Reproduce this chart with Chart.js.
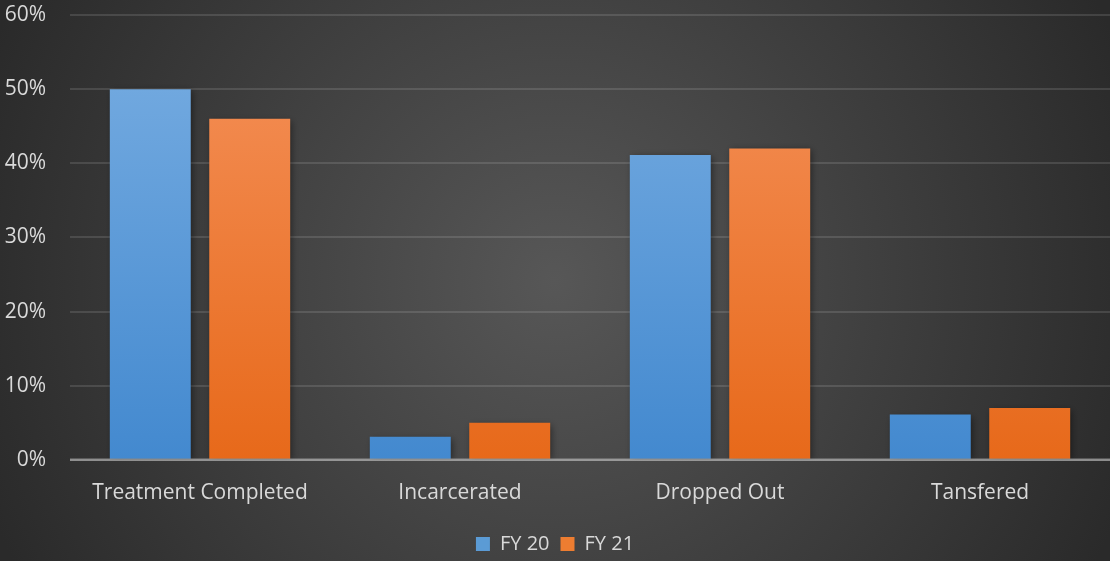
<!DOCTYPE html>
<html>
<head>
<meta charset="utf-8">
<script src="https://cdn.jsdelivr.net/npm/chart.js@4"></script>
<style>
html,body{margin:0;padding:0;background:#2a2a2a;}
#wrap{width:1110px;height:561px;position:relative;}
</style>
</head>
<body>
<div id="wrap"><canvas id="c" width="1110" height="561"></canvas></div>
<script>
const categories = ["Treatment Completed", "Incarcerated", "Dropped Out", "Tansfered"];
const fy20 = [50, 3.1, 41.1, 6.1];
const fy21 = [46, 5, 42, 7];
const seriesNames = ["FY 20", "FY 21"];

function vgrad(ctx, area, top, bottom) {
  const g = ctx.createLinearGradient(0, area.top, 0, area.bottom);
  g.addColorStop(0, top);
  g.addColorStop(1, bottom);
  return g;
}

const bgPlugin = {
  id: 'bg',
  afterUpdate(chart) {
    const lg = chart.legend;
    if (lg) {
      lg.top += 3;
      lg.bottom += 3;
      if (lg.legendHitBoxes) lg.legendHitBoxes.forEach(h => { h.top += 3; });
    }
  },
  beforeDraw(chart) {
    const {ctx, width, height} = chart;
    ctx.save();
    const g = ctx.createRadialGradient(width/2, height/2, 0, width/2, height/2, width*0.55);
    g.addColorStop(0, '#575757');
    g.addColorStop(1, '#2a2a2a');
    ctx.fillStyle = g;
    ctx.fillRect(0, 0, width, height);
    ctx.restore();
  },
  beforeDatasetsDraw(chart) {
    const ctx = chart.ctx;
    ctx.save();
    ctx.shadowColor = 'rgba(0,0,0,0.45)';
    ctx.shadowBlur = 7;
    ctx.shadowOffsetX = 2;
    ctx.shadowOffsetY = 2;
  },
  afterDatasetsDraw(chart) {
    const ctx = chart.ctx;
    ctx.restore();
    const y = chart.scales.y.getPixelForValue(0);
    ctx.save();
    ctx.strokeStyle = 'rgba(200,200,200,0.55)';
    ctx.lineWidth = 2.5;
    ctx.beginPath();
    ctx.moveTo(chart.chartArea.left, y);
    ctx.lineTo(chart.chartArea.right, y);
    ctx.stroke();
    ctx.restore();
  }
};

new Chart(document.getElementById('c'), {
  type: 'bar',
  data: {
    labels: categories,
    datasets: [
      {
        label: seriesNames[0],
        data: fy20,
        backgroundColor: (c) => {
          const a = c.chart.chartArea;
          if (!a) return '#5b9bd5';
          return vgrad(c.chart.ctx, a, '#79aee2', '#4389cf');
        }
      },
      {
        label: seriesNames[1],
        data: fy21,
        backgroundColor: (c) => {
          const a = c.chart.chartArea;
          if (!a) return '#ed7d31';
          return vgrad(c.chart.ctx, a, '#f5925c', '#e7691a');
        }
      }
    ]
  },
  options: {
    responsive: false,
    animation: false,
    devicePixelRatio: 1,
    layout: { padding: { top: 15, right: 0, left: 0, bottom: 0 } },
    datasets: { bar: { categoryPercentage: 0.765, barPercentage: 0.814 } },
    plugins: {
      legend: {
        position: 'bottom',
        labels: {
          color: '#d9d9d9',
          font: { family: 'Open Sans', size: 20 },
          boxWidth: 14,
          boxHeight: 14,
          padding: 11,
          generateLabels(chart) {
            return chart.data.datasets.map((d, i) => ({
              text: d.label,
              fillStyle: i === 0 ? '#5b9bd5' : '#ed7d31',
              strokeStyle: 'rgba(0,0,0,0)',
              lineWidth: 0,
              fontColor: '#d9d9d9',
              datasetIndex: i
            }));
          }
        }
      },
      tooltip: { enabled: false }
    },
    scales: {
      x: {
        grid: { display: false },
        border: { display: false },
        afterFit(scale) { scale.height += 1; },
        ticks: {
          color: '#d9d9d9',
          font: { family: 'Open Sans', size: 21 },
          padding: 13
        }
      },
      y: {
        min: 0,
        max: 60,
        afterFit(scale) { scale.width = 70; scale.paddingTop = 0; scale.paddingBottom = 0; },
        border: { display: false },
        grid: {
          color: 'rgba(255,255,255,0.12)',
          lineWidth: 2,
          drawTicks: false
        },
        ticks: {
          stepSize: 10,
          color: '#d9d9d9',
          font: { family: 'Open Sans', size: 21 },
          padding: 24,
          callback: (v) => v + '%'
        }
      }
    }
  },
  plugins: [bgPlugin]
});
</script>
</body>
</html>
